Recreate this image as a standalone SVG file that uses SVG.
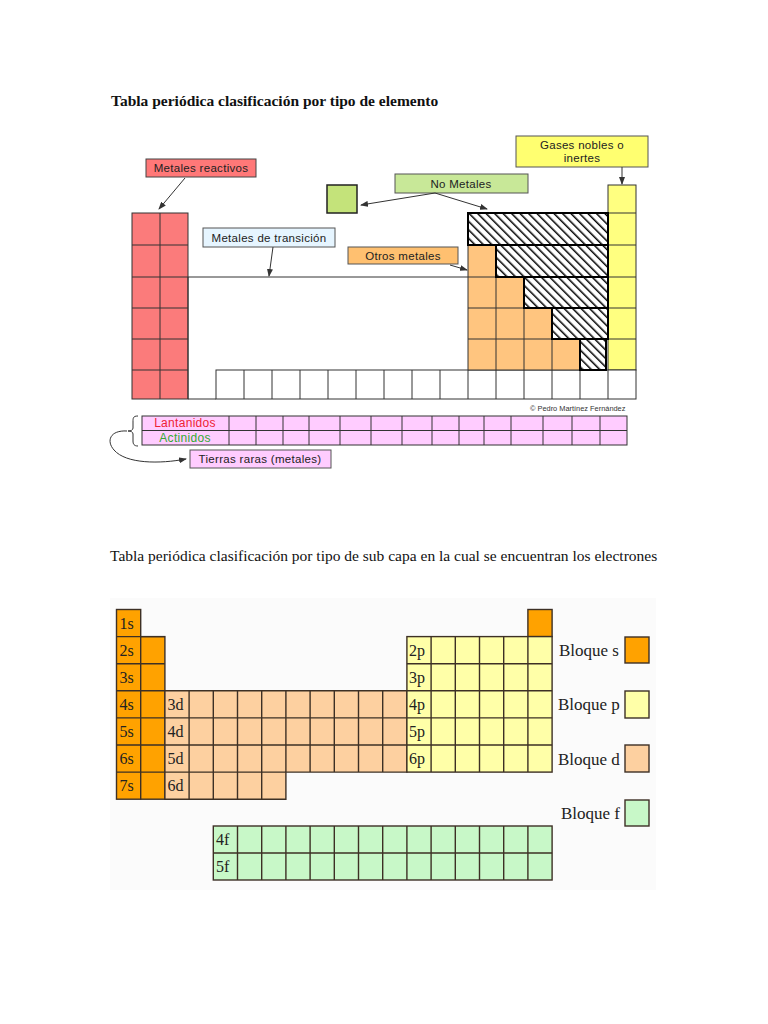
<svg xmlns="http://www.w3.org/2000/svg" width="768" height="1024" viewBox="0 0 768 1024">
<style>
.title{font-family:"Liberation Serif","Times New Roman",serif;font-size:15.5px;fill:#111}
.lbl{font-family:"Liberation Sans",Arial,sans-serif;font-size:11.5px;letter-spacing:0.3px;fill:#222;text-anchor:middle}
.cell{stroke:#333;stroke-width:1}
.grid{fill:none;stroke:#333;stroke-width:1}
.bgrid{fill:none;stroke:#3d3025;stroke-width:1.4}
.sub{font-family:"Liberation Serif","Times New Roman",serif;font-size:16px;fill:#222}
.leg{font-family:"Liberation Serif","Times New Roman",serif;font-size:17px;fill:#222}
.conn{fill:none;stroke:#333;stroke-width:1}
.hatchcell{fill:url(#hatch);stroke:#000;stroke-width:2}
</style>
<defs>
<pattern id="hatch" patternUnits="userSpaceOnUse" width="6" height="6" patternTransform="rotate(-45)">
<rect width="6" height="6" fill="#fff"/>
<line x1="0" y1="0" x2="0" y2="6" stroke="#000" stroke-width="3"/>
</pattern>
<marker id="arr" markerWidth="8" markerHeight="6" refX="7" refY="3" orient="auto" markerUnits="userSpaceOnUse">
<path d="M0,0 L8,3 L0,6 z" fill="#333"/>
</marker>
</defs>
<rect width="768" height="1024" fill="#fff"/>

<text class="title" x="111" y="106" font-weight="bold">Tabla periódica clasificación por tipo de elemento</text>

<!-- Top table -->
<g id="top-table">
<g id="metales-reactivos-block">
<rect class="cell" x="132" y="213" width="56" height="186" fill="#fb7b7b"/>
<path class="grid" d="M160 213V399 M132 245H188 M132 277H188 M132 308H188 M132 339H188 M132 370H188"/>
</g>
<g id="gases-nobles-block">
<rect class="cell" x="608" y="185" width="28" height="185" fill="#ffff80"/>
<path class="grid" d="M608 213H636 M608 245H636 M608 277H636 M608 308H636 M608 339H636"/>
</g>
<g id="transicion-outline">
<path class="grid" d="M188 277H468 M188 277V399 M188 399H216"/>
</g>
<g id="fila-inferior">
<rect class="cell" x="216" y="370" width="420" height="29" fill="#fff"/>
<path class="grid" d="M244 370V399 M272 370V399 M300 370V399 M328 370V399 M356 370V399 M384 370V399 M412 370V399 M440 370V399 M468 370V399 M496 370V399 M524 370V399 M552 370V399 M580 370V399 M608 370V399"/>
</g>
<g id="otros-metales-block">
<path class="cell" d="M468 245H496V277H524V308H552V339H580V370H468Z" fill="#ffc57f"/>
<path class="grid" d="M468 277H496 M468 308H524 M468 339H552 M496 277V370 M524 308V370 M552 339V370"/>
</g>
<g id="no-metales-block">
<rect class="hatchcell" x="468" y="213" width="140" height="32"/>
<rect class="hatchcell" x="496" y="245" width="112" height="32"/>
<rect class="hatchcell" x="524" y="277" width="84" height="31"/>
<rect class="hatchcell" x="552" y="308" width="56" height="31"/>
<rect class="hatchcell" x="580" y="339" width="26" height="31"/>
</g>
<g id="lantanidos-actinidos">
<rect class="cell" x="142" y="416" width="485" height="29" fill="#ffccff"/>
<path class="grid" d="M142 430.5H627 M229 416V445 M256 416V445 M283 416V445 M309 416V445 M340 416V445 M371 416V445 M402 416V445 M432 416V445 M459 416V445 M484 416V445 M511 416V445 M543 416V445 M572 416V445 M600 416V445"/>
<text class="lbl" x="185" y="427" style="fill:#ee2233;font-size:12px">Lantanidos</text>
<text class="lbl" x="185" y="441.5" style="fill:#33aa33;font-size:12px">Actinidos</text>
</g>
<text x="530" y="411" font-family="Liberation Sans,Arial,sans-serif" font-size="7.4" fill="#333">© Pedro Martínez Fernández</text>
</g>

<!-- Label nodes -->
<g id="label-metales-reactivos">
<rect x="146" y="159" width="110" height="18" fill="#ff7878" stroke="#444"/>
<text class="lbl" x="201" y="172">Metales reactivos</text>
</g>
<g id="legend-no-metales-square">
<rect x="327" y="185" width="30" height="28" fill="#c4e37a" stroke="#222" stroke-width="1.5"/>
</g>
<g id="label-no-metales">
<rect x="395" y="174" width="133" height="19" fill="#c8e898" stroke="#555"/>
<text class="lbl" x="461" y="188">No Metales</text>
</g>
<g id="label-metales-transicion">
<rect x="203" y="228" width="132" height="19" fill="#e6f5ff" stroke="#555"/>
<text class="lbl" x="269" y="242">Metales de transición</text>
</g>
<g id="label-otros-metales">
<rect x="348" y="247" width="110" height="17" fill="#ffc070" stroke="#555"/>
<text class="lbl" x="403" y="260">Otros metales</text>
</g>
<g id="label-gases-nobles">
<rect x="516" y="136" width="132" height="31" fill="#ffff70" stroke="#555"/>
<text class="lbl" x="582" y="149">Gases nobles o</text>
<text class="lbl" x="582" y="162">inertes</text>
</g>
<g id="label-tierras-raras">
<rect x="190" y="450" width="141" height="18" fill="#ffccff" stroke="#555"/>
<text class="lbl" x="260" y="463">Tierras raras (metales)</text>
</g>

<g id="connectors">
<path class="conn" d="M185 178L159 209" marker-end="url(#arr)"/>
<path class="conn" d="M435 193L361 205" marker-end="url(#arr)"/>
<path class="conn" d="M435 193L487 209" marker-end="url(#arr)"/>
<path class="conn" d="M273 247L269 276" marker-end="url(#arr)"/>
<path class="conn" d="M450 265L467 270" marker-end="url(#arr)"/>
<path class="conn" d="M622 167V184" marker-end="url(#arr)"/>
<path class="conn" d="M138 416C133 416 133 418 133 422V428C133 430 131 431 128 431C131 431 133 432 133 434V441C133 444 134 446 138 446"/>
<path class="conn" d="M127 431C110 430 106 441 114 450C126 464 160 464 186 459" marker-end="url(#arr)"/>
</g>

<!-- Bottom table -->
<text class="title" x="110" y="561">Tabla periódica clasificación por tipo de sub capa en la cual se encuentran los electrones</text>
<rect x="110" y="598" width="546" height="292" fill="#fbfbfb"/>
<g id="bloque-s-cells">
<rect x="116.5" y="609.5" width="24.2" height="189.7" fill="#ffa200" stroke="#3d3025" stroke-width="1.4"/>
<rect x="140.7" y="636.6" width="24.2" height="162.6" fill="#ffa200" stroke="#3d3025" stroke-width="1.4"/>
<path class="bgrid" d="M116.5 636.6H164.9 M116.5 663.7H164.9 M116.5 690.8H164.9 M116.5 717.9H164.9 M116.5 745H164.9 M116.5 772.1H164.9"/>
<rect x="527.9" y="609.5" width="24.2" height="27.1" fill="#ffa200" stroke="#3d3025" stroke-width="1.4"/>
<text class="sub" x="119.5" y="629">1s</text>
<text class="sub" x="119.5" y="656">2s</text>
<text class="sub" x="119.5" y="683">3s</text>
<text class="sub" x="119.5" y="710">4s</text>
<text class="sub" x="119.5" y="737">5s</text>
<text class="sub" x="119.5" y="764">6s</text>
<text class="sub" x="119.5" y="791">7s</text>
</g>
<g id="bloque-d-cells">
<path d="M164.9 690.8H406.9V772.1H285.9V799.2H164.9Z" fill="#fdd0a0" stroke="#3d3025" stroke-width="1.4"/>
<path class="bgrid" d="M164.9 717.9H406.9 M164.9 745H406.9 M164.9 772.1H285.9 M189.1 690.8V799.2 M213.3 690.8V799.2 M237.5 690.8V799.2 M261.7 690.8V799.2 M285.9 690.8V772.1 M310.1 690.8V772.1 M334.3 690.8V772.1 M358.5 690.8V772.1 M382.7 690.8V772.1"/>
<text class="sub" x="167.5" y="710">3d</text>
<text class="sub" x="167.5" y="737">4d</text>
<text class="sub" x="167.5" y="764">5d</text>
<text class="sub" x="167.5" y="791">6d</text>
</g>
<g id="bloque-p-cells">
<rect x="406.9" y="636.6" width="145.2" height="135.5" fill="#ffffa8" stroke="#3d3025" stroke-width="1.4"/>
<path class="bgrid" d="M406.9 663.7H552.1 M406.9 690.8H552.1 M406.9 717.9H552.1 M406.9 745H552.1 M431.1 636.6V772.1 M455.3 636.6V772.1 M479.5 636.6V772.1 M503.7 636.6V772.1 M527.9 636.6V772.1"/>
<text class="sub" x="409" y="656">2p</text>
<text class="sub" x="409" y="683">3p</text>
<text class="sub" x="409" y="710">4p</text>
<text class="sub" x="409" y="737">5p</text>
<text class="sub" x="409" y="764">6p</text>
</g>
<g id="bloque-f-cells">
<rect x="213.3" y="826" width="338.8" height="54" fill="#c8f8c8" stroke="#3d3025" stroke-width="1.4"/>
<path class="bgrid" d="M213.3 853H552.1 M237.5 826V880 M261.7 826V880 M285.9 826V880 M310.1 826V880 M334.3 826V880 M358.5 826V880 M382.7 826V880 M406.9 826V880 M431.1 826V880 M455.3 826V880 M479.5 826V880 M503.7 826V880 M527.9 826V880"/>
<text class="sub" x="216" y="845">4f</text>
<text class="sub" x="216" y="872">5f</text>
</g>
<g id="legend-bloque-s">
<text class="leg" x="559" y="656">Bloque s</text>
<rect x="625" y="637" width="24" height="26" fill="#ffa200" stroke="#3d3025" stroke-width="1.4"/>
</g>
<g id="legend-bloque-p">
<text class="leg" x="558" y="710">Bloque p</text>
<rect x="625" y="691" width="24" height="27" fill="#ffffa8" stroke="#3d3025" stroke-width="1.4"/>
</g>
<g id="legend-bloque-d">
<text class="leg" x="558" y="765">Bloque d</text>
<rect x="625" y="745" width="24" height="27" fill="#fdd0a0" stroke="#3d3025" stroke-width="1.4"/>
</g>
<g id="legend-bloque-f">
<text class="leg" x="561" y="819">Bloque f</text>
<rect x="625" y="800" width="24" height="26" fill="#c8f8c8" stroke="#3d3025" stroke-width="1.4"/>
</g>
</svg>
